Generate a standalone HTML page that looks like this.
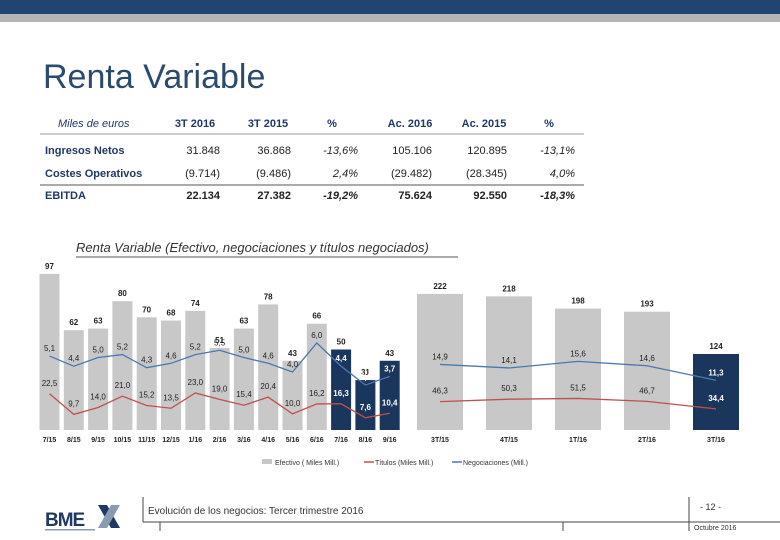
<!DOCTYPE html>
<html><head><meta charset="utf-8"><style>
body{margin:0;width:780px;height:540px;overflow:hidden;background:#fff;font-family:"Liberation Sans",sans-serif;position:relative}
.abs{position:absolute}
</style></head><body>
<div class="abs" style="left:0;top:0;width:780px;height:14px;background:#1f4570"></div>
<div class="abs" style="left:0;top:14px;width:780px;height:8px;background:#b5b5b5"></div>
<div class="abs" style="left:43px;top:58px;font-size:34px;color:#2a4a6e">Renta Variable</div>

<svg class="abs" style="left:0;top:0" width="780" height="540" font-family="Liberation Sans, sans-serif">
<g font-size="11" fill="#1a2a40">
<g font-weight="bold" fill="#1f3864">
<text x="58" y="127" font-style="italic" font-weight="normal">Miles de euros</text>
<text x="195" y="127" text-anchor="middle">3T 2016</text>
<text x="268" y="127" text-anchor="middle">3T 2015</text>
<text x="332" y="127" text-anchor="middle">%</text>
<text x="410" y="127" text-anchor="middle">Ac. 2016</text>
<text x="484" y="127" text-anchor="middle">Ac. 2015</text>
<text x="549" y="127" text-anchor="middle">%</text>
</g>
<line x1="40" y1="134" x2="584" y2="134" stroke="#999" stroke-width="1"/>
<g font-weight="bold" fill="#1f3864"><text x="45" y="154">Ingresos Netos</text><text x="45" y="177">Costes Operativos</text><text x="45" y="199">EBITDA</text></g>
<g text-anchor="end" fill="#222">
<text x="220" y="154">31.848</text><text x="291" y="154">36.868</text><text x="358" y="154" font-style="italic">-13,6%</text><text x="432" y="154">105.106</text><text x="507" y="154">120.895</text><text x="575" y="154" font-style="italic">-13,1%</text>
<text x="220" y="177">(9.714)</text><text x="291" y="177">(9.486)</text><text x="358" y="177" font-style="italic">2,4%</text><text x="432" y="177">(29.482)</text><text x="507" y="177">(28.345)</text><text x="575" y="177" font-style="italic">4,0%</text>
<g font-weight="bold"><text x="220" y="199">22.134</text><text x="291" y="199">27.382</text><text x="358" y="199" font-style="italic">-19,2%</text><text x="432" y="199">75.624</text><text x="507" y="199">92.550</text><text x="575" y="199" font-style="italic">-18,3%</text></g>
</g>
<line x1="40" y1="185" x2="584" y2="185" stroke="#aaa" stroke-width="2"/>
</g>
<text x="76" y="252" font-size="13" font-style="italic" fill="#333">Renta Variable (Efectivo, negociaciones y títulos negociados)</text>
<line x1="76" y1="257" x2="458" y2="257" stroke="#555" stroke-width="1"/>
<g id="chart"></g>
<g font-size="7" fill="#333">
<rect x="262" y="459" width="10" height="5" fill="#c8c8c8"/><text x="275" y="465">Efectivo (  Miles Mill.)</text>
<line x1="364" y1="462" x2="374" y2="462" stroke="#c0504d" stroke-width="1.5"/><text x="375" y="465">Títulos (Miles Mill.)</text>
<line x1="452" y1="462" x2="462" y2="462" stroke="#4a78b0" stroke-width="1.5"/><text x="463" y="465">Negociaciones (Mill.)</text>
</g>
<g stroke="#444" stroke-width="1">
<line x1="143" y1="497" x2="143" y2="522"/>
<line x1="143" y1="522" x2="780" y2="522"/>
<line x1="160" y1="522" x2="160" y2="531"/>
<line x1="563" y1="522" x2="563" y2="531"/>
<line x1="689" y1="497" x2="689" y2="531"/>
</g>
<text x="148" y="514" font-size="10" fill="#333">Evolución de los negocios: Tercer trimestre 2016</text>
<text x="700" y="510" font-size="9" fill="#333">- 12 -</text>
<text x="694" y="530" font-size="7" fill="#333">Octubre 2016</text>
<g>
<text x="45" y="526" font-size="19" font-weight="bold" fill="#1f3864" letter-spacing="-1">BME</text>
<path d="M98 505 L107 505 L120 528 L111 528 Z" fill="#1f3864"/>
<path d="M111 505 L120 505 L107 528 L98 528 Z" fill="#8a9bb0"/>
<rect x="45" y="529" width="50" height="1.5" fill="#8a9bb0"/>
</g>
</svg>
<script>
const months=["7/15","8/15","9/15","10/15","11/15","12/15","1/16","2/16","3/16","4/16","5/16","6/16","7/16","8/16","9/16"];
const mEfectivo=[97,62,63,80,70,68,74,51,63,78,43,66,50,31,43];
const mNeg=[5.1,4.4,5.0,5.2,4.3,4.6,5.2,5.5,5.0,4.6,4.0,6.0,4.4,3.1,3.7];
const mTit=[22.5,9.7,14.0,21.0,15.2,13.5,23.0,19.0,15.4,20.4,10.0,16.2,16.3,7.6,10.4];
const quarters=["3T/15","4T/15","1T/16","2T/16","3T/16"];
const qEfectivo=[222,218,198,193,124];
const qNeg=[14.9,14.1,15.6,14.6,11.3];
const qTit=[46.3,50.3,51.5,46.7,34.4];
const NS="http://www.w3.org/2000/svg";
const g=document.getElementById('chart');
const base=430;
function mk(t,a,txt){const e=document.createElementNS(NS,t);for(const k in a)e.setAttribute(k,a[k]);if(txt!==undefined)e.textContent=txt;g.appendChild(e);return e;}
const fmt=v=>v.toFixed(1).replace('.',',');
function draw(cats,eff,neg,tit,x0,pitch,bw,sBar,sNeg,darkFrom,pre){
  const xc=i=>x0+i*pitch, yb=v=>base-v*sBar, yn=v=>base-v*sNeg;
  cats.forEach((c,i)=>{
    const dark=i>=darkFrom;
    const r=mk('rect',{x:xc(i)-bw/2,y:yb(eff[i]),width:bw,height:eff[i]*sBar,fill:dark?'#1b365d':'#c8c8c8'});
    
    
    const t=mk('text',{x:xc(i),y:yb(eff[i])-5,'font-size':8,'font-weight':'bold','text-anchor':'middle',fill:'#222'},String(eff[i]));
    
    
    const l=mk('text',{x:xc(i),y:base+12,'font-size':7,'font-weight':'bold','text-anchor':'middle',fill:'#222'},c);
    
    
  });
  const pn=mk('polyline',{points:neg.map((v,i)=>xc(i)+','+yn(v)).join(' '),fill:'none',stroke:'#4a78b0','stroke-width':1.3});
  
  
  const pt=mk('polyline',{points:tit.map((v,i)=>xc(i)+','+yb(v)).join(' '),fill:'none',stroke:'#c0504d','stroke-width':1.3});
  
  
  cats.forEach((c,i)=>{
    const col=i>=darkFrom?'#fff':'#222';
    const a=mk('text',{x:xc(i),y:yn(neg[i])-5,'font-size':8,'font-weight':i>=darkFrom?'bold':'normal','text-anchor':'middle',fill:col},fmt(neg[i]));
    
    
    const b=mk('text',{x:xc(i),y:yb(tit[i])-8,'font-size':8,'font-weight':i>=darkFrom?'bold':'normal','text-anchor':'middle',fill:col},fmt(tit[i]));
    
    
  });
}
draw(months,mEfectivo,mNeg,mTit,49.5,24.3,20,1.61,14.5,12,'monthly-');
draw(quarters,qEfectivo,qNeg,qTit,440,69,46,0.613,4.4,4,'quarterly-');
</script>
</body></html>
